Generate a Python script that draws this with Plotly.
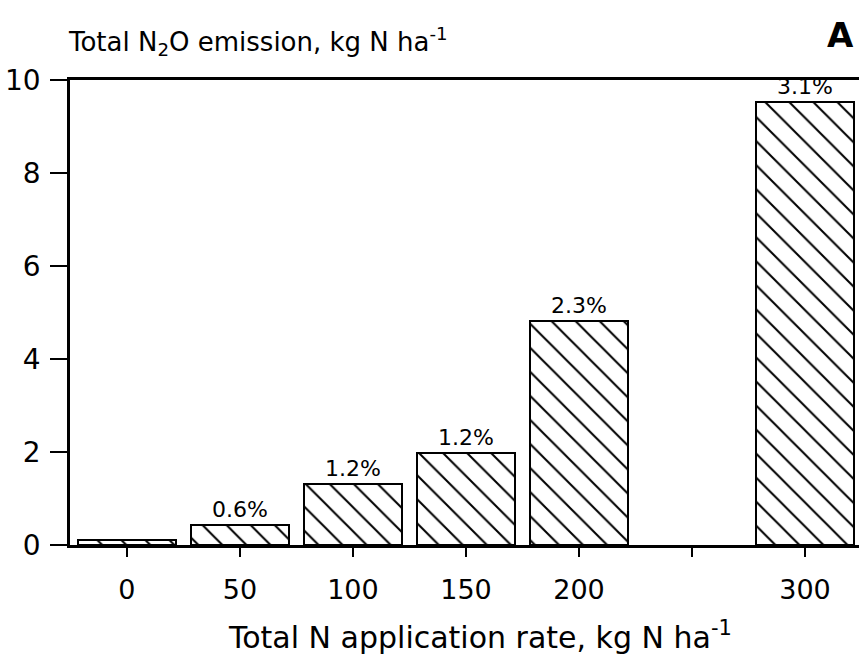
import plotly.graph_objects as go

rates = [0, 50, 100, 150, 200, 300]
emission = [0.11, 0.43, 1.31, 1.97, 4.82, 9.53]
pct_labels = ["", "0.6%", "1.2%", "1.2%", "2.3%", "3.1%"]
x_tickvals = [0, 50, 100, 150, 200, 250, 300]
x_ticktext = ["0", "50", "100", "150", "200", "", "300"]
y_tickvals = [0, 2, 4, 6, 8, 10]

FONT = "DejaVu Sans, Arial, sans-serif"

fig = go.Figure()
fig.add_trace(go.Bar(
    x=rates, y=emission, width=43,
    text=pct_labels, textposition="outside",
    textfont=dict(family=FONT, size=22, color="black"),
    cliponaxis=False,
    marker=dict(color="white",
                line=dict(color="black", width=2),
                pattern=dict(shape="\\", fgcolor="black", bgcolor="white",
                             fgopacity=1, fillmode="overlay",
                             size=17, solidity=0.12)),
    showlegend=False,
))

fig.update_layout(
    width=859, height=657,
    margin=dict(l=70, r=0, t=80, b=112),
    plot_bgcolor="white", paper_bgcolor="white",
    font=dict(family=FONT, color="black"),
    xaxis=dict(range=[-25.2, 323.9], tickvals=x_tickvals, ticktext=x_ticktext,
               showline=True, linecolor="black", linewidth=2.5, mirror=True,
               ticks="outside", ticklen=9, tickwidth=2, tickcolor="black",
               showgrid=False, zeroline=False,
               tickfont=dict(family=FONT, size=27), ticklabelstandoff=10),
    yaxis=dict(range=[0, 10], tickvals=y_tickvals,
               showline=True, linecolor="black", linewidth=2.5,
               ticks="outside", ticklen=17, tickwidth=2, tickcolor="black",
               showgrid=False, zeroline=False,
               tickfont=dict(family=FONT, size=28), ticklabelstandoff=4),
    bargap=0,
    annotations=[
        dict(text="Total N application rate, kg N ha<sup>-1</sup>",
             xref="paper", yref="paper", x=0.52, y=-0.194,
             xanchor="center", yanchor="middle", showarrow=False,
             font=dict(family=FONT, size=30)),
        dict(text="Total N<sub>2</sub>O emission, kg N ha<sup>-1</sup>",
             xref="paper", yref="paper", x=-0.005, y=1.082,
             xanchor="left", yanchor="middle", showarrow=False,
             font=dict(family=FONT, size=26)),
        dict(text="<b>A</b>",
             xref="paper", yref="paper", x=0.976, y=1.097,
             xanchor="center", yanchor="middle", showarrow=False,
             font=dict(family=FONT, size=34)),
    ],
)

fig.write_html("out.html")
